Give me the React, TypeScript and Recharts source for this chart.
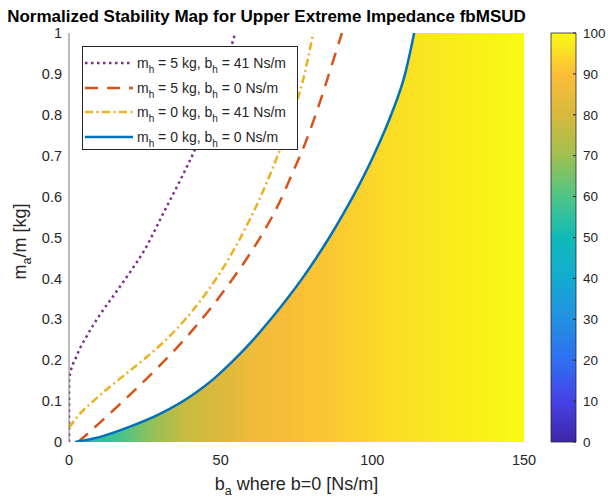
import React from "react";
import { ComposedChart, Line, Area, Bar, XAxis, YAxis, Legend } from "recharts";

// stability boundaries: added damping b_a [Ns/m] against normalized added mass m_a/m
const blueB = [2, 10, 19.2, 29.8, 41.3, 47.8, 54.3, 60.1, 66.5, 71.9, 76.9, 81.5, 85.8, 89.8, 93.6, 100.4, 106.2, 110.8, 113.8];
const blueM = [0, 0.012, 0.035, 0.068, 0.118, 0.155, 0.2, 0.245, 0.3, 0.35, 0.4, 0.45, 0.5, 0.55, 0.6, 0.7, 0.8, 0.9, 1];

const redB = [3, 10, 17, 23, 29, 35, 41, 47, 53, 59, 64, 69, 74, 78, 82, 85.5, 88.5, 90];
const redM = [0, 0.046, 0.094, 0.136, 0.18, 0.226, 0.276, 0.33, 0.389, 0.453, 0.512, 0.58, 0.663, 0.733, 0.815, 0.895, 0.965, 1];

const orangeB = [0, 3, 8, 13, 19, 25, 31, 38, 45, 52, 59, 65, 70, 74, 77, 80.5];
const orangeM = [0.035, 0.064, 0.1, 0.132, 0.168, 0.204, 0.243, 0.297, 0.362, 0.44, 0.535, 0.631, 0.724, 0.808, 0.88, 1];

const purpleB = [0, 0.05, 2.5, 6, 10, 15, 20, 25, 31, 37, 42, 47, 51, 54.8];
const purpleM = [0, 0.155, 0.21, 0.261, 0.309, 0.361, 0.414, 0.471, 0.558, 0.645, 0.723, 0.818, 0.906, 1];

// normalized stability score (%) of the stable region, varies with b_a only
const scoreB = [0, 16, 27, 38, 50, 60, 72, 88, 105, 121, 138, 150];
const scoreVal = [47, 58, 68, 77, 81, 86, 89, 92, 95, 97, 98.5, 100];

const humanMass = [5, 5, 0, 0];
const humanDamping = [41, 0, 41, 0];

const xTicks = [0, 50, 100, 150];
const yTicks = [0, 0.1, 0.2, 0.3, 0.4, 0.5, 0.6, 0.7, 0.8, 0.9, 1];
const cbTicks = [0, 10, 20, 30, 40, 50, 60, 70, 80, 90, 100];

// parula, sampled every 10 %
const PARULA = [
  "#3e26a8", "#4542e6", "#2f6ff2", "#2290e0", "#12abd0", "#0fbab8",
  "#4ec686", "#a0c050", "#d8b93c", "#fcbd38", "#f9fb14",
];

const FONT = "'Liberation Sans', Arial, Helvetica, sans-serif";
const TXT = "#262626";

const hexToRgb = (h: string) => [1, 3, 5].map((i) => parseInt(h.slice(i, i + 2), 16));

function parula(v: number) {
  const t = Math.max(0, Math.min(100, v)) / 10;
  const i = Math.min(9, Math.floor(t));
  const f = t - i;
  const a = hexToRgb(PARULA[i]);
  const b = hexToRgb(PARULA[i + 1]);
  const c = a.map((x, k) => Math.round(x + (b[k] - x) * f));
  return `rgb(${c[0]},${c[1]},${c[2]})`;
}

const toPoints = (bs: number[], ms: number[]) => bs.map((b, i) => ({ b, m: ms[i] }));

const blueData = toPoints(blueB, blueM);
const redData = toPoints(redB, redM);
const orangeData = toPoints(orangeB, orangeM);
const purpleData = toPoints(purpleB, purpleM);

// stable region: right of the blue boundary, capped at m_a/m = 1
const fillData = [{ b: 0, m: 0 }, ...blueData, { b: 150, m: 1 }];

const series = [
  { key: "p", data: purpleData, color: "#7e2f8e", dash: "2.5 3.5" },
  { key: "r", data: redData, color: "#d95319", dash: "13 9" },
  { key: "o", data: orangeData, color: "#edb120", dash: "8 3.5 2 3.5" },
  { key: "b", data: blueData, color: "#0072bd", dash: undefined },
];

function Sub({ base, sub }: { base: string; sub: string }) {
  return (
    <>
      {base}
      <span style={{ fontSize: 10, position: "relative", top: 5 }}>{sub}</span>
    </>
  );
}

function LegendBox() {
  return (
    <div
      style={{
        border: "1px solid #262626",
        background: "#fff",
        paddingTop: 4,
        boxSizing: "border-box",
        height: 104,
        fontFamily: FONT,
        fontSize: 14,
        color: TXT,
      }}
    >
      {series.map((s, i) => (
        <div key={s.key} style={{ display: "flex", alignItems: "center", height: 24.5, whiteSpace: "nowrap" }}>
          <svg width={53} height={10} style={{ flex: "none", marginLeft: 1 }}>
            <line x1={1} x2={49} y1={5} y2={5} stroke={s.color} strokeWidth={2.5} strokeDasharray={s.dash} />
          </svg>
          <span>
            <Sub base="m" sub="h" /> = {humanMass[i]} kg, <Sub base="b" sub="h" /> = {humanDamping[i]} Ns/m
          </span>
        </div>
      ))}
    </div>
  );
}

function XLabel(props: any) {
  const { x, y, width } = props.viewBox;
  return (
    <text x={x + width / 2} y={y + 48} textAnchor="middle" fontFamily={FONT} fontSize={18} fill={TXT}>
      b<tspan fontSize={12.5} dy={5}>a</tspan>
      <tspan dy={-5}> where b=0 [Ns/m]</tspan>
    </text>
  );
}

function YLabel(props: any) {
  const { y, height } = props.viewBox;
  const cx = 26;
  const cy = y + height / 2 + 4;
  return (
    <text
      x={cx}
      y={cy}
      transform={`rotate(-90 ${cx} ${cy})`}
      textAnchor="middle"
      fontFamily={FONT}
      fontSize={18}
      fill={TXT}
    >
      m<tspan fontSize={12.5} dy={5}>a</tspan>
      <tspan dy={-5}>/m [kg]</tspan>
    </text>
  );
}

function ColorbarTick(props: any) {
  const { x, y, payload } = props;
  return (
    <g>
      <line x1={x - 3} x2={x} y1={y} y2={y} stroke={TXT} strokeWidth={1} />
      <text x={x + 7} y={y} dy="0.35em" fontFamily={FONT} fontSize={13.5} fill={TXT}>
        {payload.value}
      </text>
    </g>
  );
}

const colorbarData = [{ k: "score", v: 100 }];

export default function App() {
  return (
    <div style={{ position: "absolute", left: 0, top: 0, width: 608, height: 498, background: "#fff" }}>
      <div
        style={{
          position: "absolute",
          left: 0,
          width: 533,
          top: 7,
          textAlign: "center",
          fontFamily: FONT,
          fontWeight: "bold",
          fontSize: 17,
          color: "#000",
          whiteSpace: "nowrap",
        }}
      >
        Normalized Stability Map for Upper Extreme Impedance fbMSUD
      </div>

      <div style={{ position: "absolute", left: 0, top: 0 }}>
        <ComposedChart width={608} height={498} margin={{ top: 33, right: 84, bottom: 16, left: 0 }}>
          <defs>
            <linearGradient id="stabilityFill" x1="0" y1="0" x2="1" y2="0">
              {scoreB.map((b, i) => (
                <stop key={b} offset={b / 150} stopColor={parula(scoreVal[i])} />
              ))}
            </linearGradient>
          </defs>
          <XAxis
            type="number"
            dataKey="b"
            domain={[0, 150]}
            ticks={xTicks}
            allowDataOverflow
            height={40}
            axisLine={false}
            tickLine={false}
            tickSize={8}
            tickMargin={5}
            tick={{ fill: TXT, fontSize: 14.5, fontFamily: FONT }}
            label={<XLabel />}
          />
          <YAxis
            type="number"
            dataKey="m"
            domain={[0, 1]}
            ticks={yTicks}
            allowDataOverflow
            width={69}
            axisLine={{ stroke: "#7a7a7a", strokeWidth: 1 }}
            tickLine={false}
            tickSize={5}
            tickMargin={2}
            tick={{ fill: TXT, fontSize: 14.5, fontFamily: FONT }}
            label={<YLabel />}
          />
          <Area
            data={fillData}
            dataKey="m"
            type="linear"
            stroke="none"
            fill="url(#stabilityFill)"
            fillOpacity={1}
            baseValue={0}
            isAnimationActive={false}
            legendType="none"
          />
          {series.map((s) => (
            <Line
              key={s.key}
              data={s.data}
              dataKey="m"
              type="monotone"
              stroke={s.color}
              strokeWidth={2.5}
              strokeDasharray={s.dash}
              dot={false}
              activeDot={false}
              isAnimationActive={false}
            />
          ))}
          <Legend
            layout="horizontal"
            verticalAlign="middle"
            align="center"
            content={<LegendBox />}
            wrapperStyle={{ left: 82, top: 46, width: 216, height: 104 }}
          />
        </ComposedChart>
      </div>

      <div style={{ position: "absolute", left: 540, top: 0 }}>
        <ComposedChart
          width={68}
          height={498}
          data={colorbarData}
          barCategoryGap={0}
          margin={{ top: 33, right: 0, bottom: 56, left: 11 }}
        >
          <defs>
            <linearGradient id="parulaBar" x1="0" y1="1" x2="0" y2="0">
              {PARULA.map((c, i) => (
                <stop key={c} offset={i / 10} stopColor={c} />
              ))}
            </linearGradient>
          </defs>
          <XAxis dataKey="k" hide />
          <YAxis
            orientation="right"
            type="number"
            domain={[0, 100]}
            ticks={cbTicks}
            width={32}
            axisLine={false}
            tickLine={false}
            tickSize={0}
            tickMargin={0}
            tick={<ColorbarTick />}
          />
          <Bar
            dataKey="v"
            fill="url(#parulaBar)"
            stroke="#262626"
            strokeWidth={0.8}
            isAnimationActive={false}
          />
        </ComposedChart>
      </div>
    </div>
  );
}
